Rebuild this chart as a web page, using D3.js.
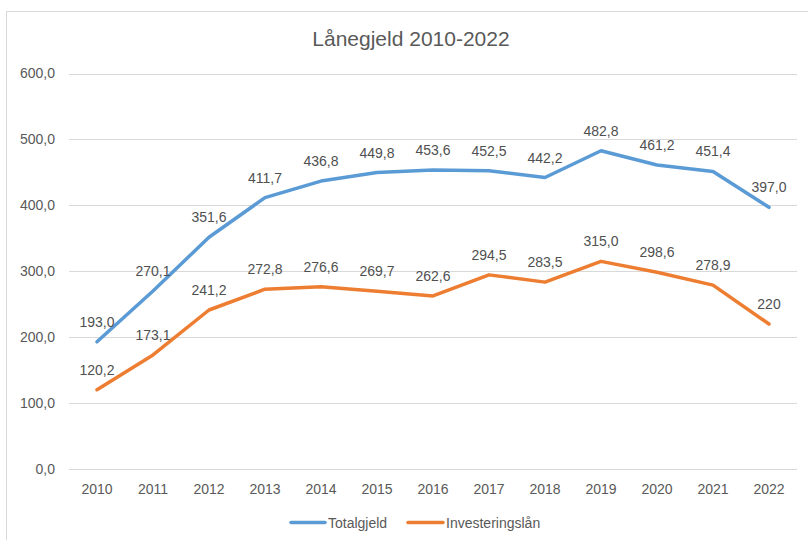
<!DOCTYPE html>
<html>
<head>
<meta charset="utf-8">
<script src="https://cdn.jsdelivr.net/npm/d3@7"></script>
<style>
  html, body { margin: 0; padding: 0; background: #fff; }
  svg { display: block; font-family: "Liberation Sans", Arial, sans-serif; }
</style>
</head>
<body>
<svg id="chart" width="808" height="540"></svg>
<script>
const years = ["2010","2011","2012","2013","2014","2015","2016","2017","2018","2019","2020","2021","2022"];
const totalgjeld = [193.0, 270.1, 351.6, 411.7, 436.8, 449.8, 453.6, 452.5, 442.2, 482.8, 461.2, 451.4, 397.0];
const totalLabels = ["193,0","270,1","351,6","411,7","436,8","449,8","453,6","452,5","442,2","482,8","461,2","451,4","397,0"];
const investeringslan = [120.2, 173.1, 241.2, 272.8, 276.6, 269.7, 262.6, 294.5, 283.5, 315.0, 298.6, 278.9, 220];
const invLabels = ["120,2","173,1","241,2","272,8","276,6","269,7","262,6","294,5","283,5","315,0","298,6","278,9","220"];
const yTicks = [0, 100, 200, 300, 400, 500, 600];
const yTickLabels = ["0,0","100,0","200,0","300,0","400,0","500,0","600,0"];
const seriesNames = ["Totalgjeld", "Investeringslån"];
const colors = ["#5B9BD5", "#ED7D31"];

const svg = d3.select("#chart");
const textColor = "#595959";

// chart frame
svg.append("rect")
  .attr("x", 6.5).attr("y", 11.5)
  .attr("width", 820).attr("height", 560)
  .attr("fill", "#fff").attr("stroke", "#D9D9D9").attr("stroke-width", 1);

// title
svg.append("text")
  .attr("x", 411).attr("y", 46)
  .attr("text-anchor", "middle")
  .attr("font-size", 21)
  .attr("fill", textColor)
  .text("Lånegjeld 2010-2022");

const x = d3.scaleBand().domain(years).range([69, 797]).paddingInner(0).paddingOuter(0);
const y = d3.scaleLinear().domain([0, 600]).range([469, 73.5]);

// gridlines
svg.append("g")
  .selectAll("line")
  .data(yTicks)
  .join("line")
  .attr("x1", 69).attr("x2", 797)
  .attr("y1", d => Math.round(y(d)) + 0.5)
  .attr("y2", d => Math.round(y(d)) + 0.5)
  .attr("stroke", "#D9D9D9").attr("stroke-width", 1);

// y axis labels
const yAxis = d3.axisLeft(y).tickValues(yTicks).tickSize(0).tickPadding(0)
  .tickFormat((d, i) => yTickLabels[i]);
const yg = svg.append("g").attr("transform", "translate(55,0)").call(yAxis);
yg.select(".domain").remove();
yg.selectAll("text").attr("font-size", 14).attr("fill", textColor)
  .attr("font-family", "Liberation Sans, Arial, sans-serif");

// x axis labels
const xAxis = d3.axisBottom(x).tickSize(0).tickPadding(0);
const xg = svg.append("g").attr("transform", "translate(0,484)").call(xAxis);
xg.select(".domain").remove();
xg.selectAll("text").attr("font-size", 14).attr("fill", textColor)
  .attr("font-family", "Liberation Sans, Arial, sans-serif");

const cx = d => x(d) + x.bandwidth() / 2;
const line = d3.line().x(d => cx(d[0])).y(d => y(d[1]));

const series = [
  { values: totalgjeld, labels: totalLabels, color: colors[0] },
  { values: investeringslan, labels: invLabels, color: colors[1] }
];

series.forEach(s => {
  const pts = years.map((yr, i) => [yr, s.values[i]]);
  svg.append("path")
    .datum(pts)
    .attr("d", line)
    .attr("fill", "none")
    .attr("stroke", s.color)
    .attr("stroke-width", 3.5)
    .attr("stroke-linejoin", "round")
    .attr("stroke-linecap", "round");
});

series.forEach(s => {
  svg.append("g")
    .selectAll("text")
    .data(years.map((yr, i) => ({ yr, v: s.values[i], l: s.labels[i] })))
    .join("text")
    .attr("x", d => cx(d.yr))
    .attr("y", d => y(d.v) - 15)
    .attr("text-anchor", "middle")
    .attr("font-size", 14)
    .attr("fill", "#505050")
    .text(d => d.l);
});

// legend
const legendItems = [
  { name: seriesNames[0], color: colors[0], x1: 291, x2: 325, tx: 328 },
  { name: seriesNames[1], color: colors[1], x1: 408, x2: 443, tx: 446 }
];
const lg = svg.append("g");
legendItems.forEach(it => {
  lg.append("line")
    .attr("x1", it.x1).attr("x2", it.x2)
    .attr("y1", 522.5).attr("y2", 522.5)
    .attr("stroke", it.color).attr("stroke-width", 3.5)
    .attr("stroke-linecap", "round");
  lg.append("text")
    .attr("x", it.tx).attr("y", 527.5)
    .attr("font-size", 14)
    .attr("fill", textColor)
    .text(it.name);
});
</script>
</body>
</html>
